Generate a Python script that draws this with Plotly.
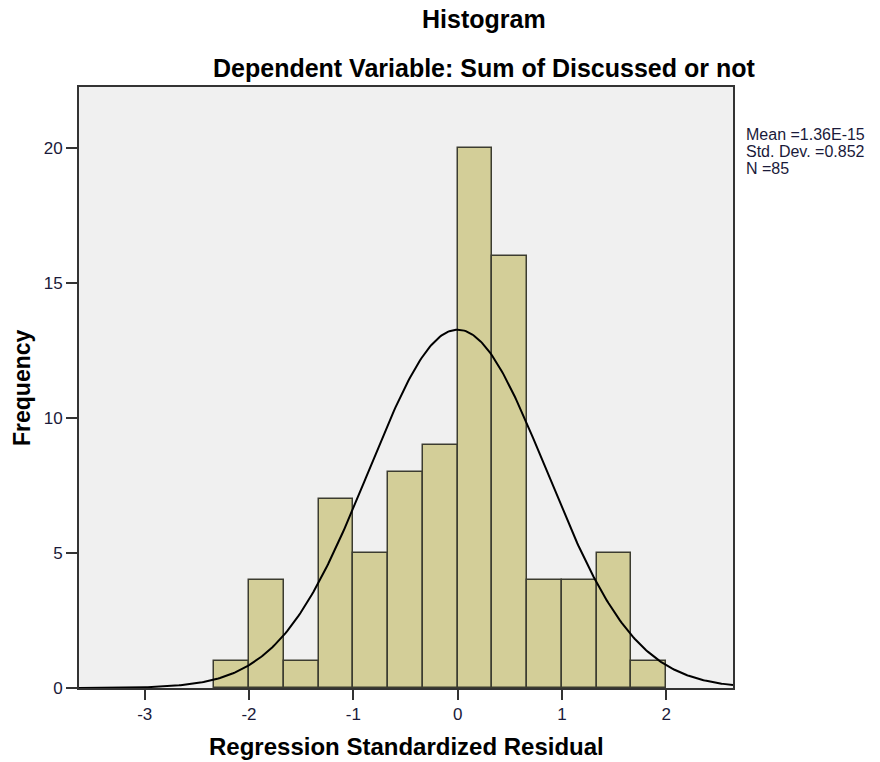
import numpy as np
import plotly.graph_objects as go

# Data
bin_start = -2.3333
bin_width = 1/3
counts = [1, 4, 1, 7, 5, 8, 9, 20, 16, 4, 4, 5, 1]
x_ticks = [-3, -2, -1, 0, 1, 2]
x_tick_labels = ["-3", "-2", "-1", "0", "1", "2"]
y_ticks = [0, 5, 10, 15, 20]
y_tick_labels = ["0", "5", "10", "15", "20"]
mean_val = 1.36e-15
std_val = 0.852
n_val = 85
stats_lines = ["Mean =1.36E-15", "Std. Dev. =0.852", "N =85"]

centers = [bin_start + bin_width * (i + 0.5) for i in range(len(counts))]

# Normal curve from stated mean / sd / N
xc = np.linspace(-3.63, 2.64, 400)
yc = n_val * bin_width / (std_val * np.sqrt(2 * np.pi)) * np.exp(-0.5 * ((xc - mean_val) / std_val) ** 2)

fig = go.Figure()
fig.add_trace(go.Bar(x=centers, y=counts, width=bin_width,
                     marker=dict(color="#D3CE98", line=dict(color="#3C3C30", width=1.5)),
                     hoverinfo="x+y"))
fig.add_trace(go.Scatter(x=xc, y=yc, mode="lines", line=dict(color="#000000", width=2)))

W, H = 880, 762
L, R, T, B = 79, 733, 87, 688

def px(x):
    return (x - L) / (R - L)

def py(y):
    return (B - y) / (B - T)

font = "Liberation Sans, Arial, sans-serif"
tick_col = "#1a1a3a"
annots = [
    dict(text="<b>Histogram</b>", x=px(484), y=py(19), size=25),
    dict(text="<b>Dependent Variable: Sum of Discussed or not</b>", x=px(484), y=py(68), size=25),
    dict(text="<b>Regression Standardized Residual</b>", x=px(406), y=py(746), size=24),
]
ann_list = [dict(text=a["text"], x=a["x"], y=a["y"], xref="paper", yref="paper", showarrow=False,
                 font=dict(size=a["size"], family=font, color="#000000"),
                 xanchor="center", yanchor="middle") for a in annots]
ann_list.append(dict(text="<b>Frequency</b>", x=px(22), y=py(388), xref="paper", yref="paper",
                     showarrow=False, font=dict(size=23, family=font, color="#000000"), textangle=-90,
                     xanchor="center", yanchor="middle"))
for i, line in enumerate(stats_lines):
    ann_list.append(dict(text=line, x=px(745), y=py(134 + 17 * i), xref="paper", yref="paper",
                         showarrow=False, font=dict(size=16, family=font, color=tick_col),
                         xanchor="left", yanchor="middle", borderpad=0))

fig.update_layout(
    width=W, height=H,
    margin=dict(l=L, r=W - R, t=T, b=H - B),
    paper_bgcolor="white", plot_bgcolor="#F0F0F0",
    showlegend=False, bargap=0,
    font=dict(family=font, color="#000000"),
    xaxis=dict(range=[-3.63, 2.64], tickvals=x_ticks, ticktext=x_tick_labels, ticks="outside",
               ticklen=10, tickwidth=2, tickcolor="#333333", showgrid=False, zeroline=False,
               showline=True, linecolor="#333333", linewidth=2, mirror=True,
               tickfont=dict(size=17, family=font, color=tick_col)),
    yaxis=dict(range=[0, 22.25], tickvals=y_ticks, ticktext=y_tick_labels, ticks="outside",
               ticklen=11, tickwidth=1.5, tickcolor="#333333", showgrid=False, zeroline=False,
               showline=True, linecolor="#333333", linewidth=2, mirror=True,
               tickfont=dict(size=17, family=font, color=tick_col)),
    annotations=ann_list,
)

fig.write_html("out.html", config={"displayModeBar": False},
               post_script="document.body.style.margin='0';document.body.style.overflow='hidden';")
